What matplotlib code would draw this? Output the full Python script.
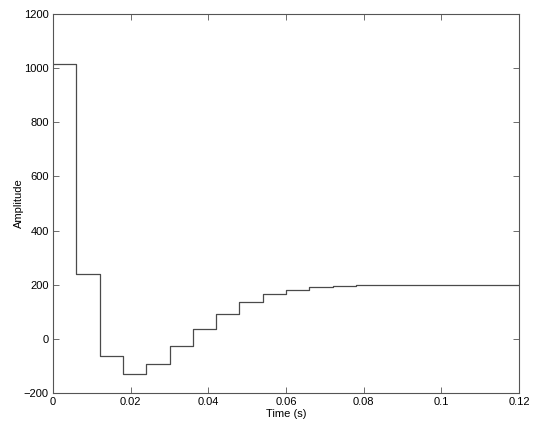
import numpy as np
import matplotlib.pyplot as plt

plt.rcParams['font.family'] = ['Liberation Sans', 'DejaVu Sans']

# step edges (s) and amplitude held from each edge
t_edges = [0, 0.006, 0.012, 0.018, 0.024, 0.030, 0.036, 0.042, 0.048,
           0.054, 0.060, 0.066, 0.072, 0.078, 0.084, 0.12]
amplitude = [1016, 240, -62, -128, -93, -28, 38, 93, 135,
             165, 180, 190, 196, 198, 200, 200]

fig = plt.figure(figsize=(5.36, 4.23), dpi=100)
ax = fig.add_axes([53 / 536, 30 / 423, 466 / 536, 379 / 423])

ax.step(t_edges, amplitude, where='post', color='#4a4a4a', linewidth=0.9)

ax.set_xlim(0, 0.12)
ax.set_ylim(-200, 1200)
ax.set_xticks([0, 0.02, 0.04, 0.06, 0.08, 0.1, 0.12])
ax.set_xticklabels(['0', '0.02', '0.04', '0.06', '0.08', '0.1', '0.12'])
ax.set_yticks(range(-200, 1201, 200))
ax.tick_params(direction='in', top=True, right=True, labelsize=8,
               length=4, width=0.6, color='#555555', pad=3)
for s in ax.spines.values():
    s.set_color('#555555')
    s.set_linewidth(0.8)

ax.set_xlabel('Time (s)', fontsize=8, labelpad=1)
ax.set_ylabel('Amplitude', fontsize=8, labelpad=0)

fig.savefig('out.png', dpi=100)
